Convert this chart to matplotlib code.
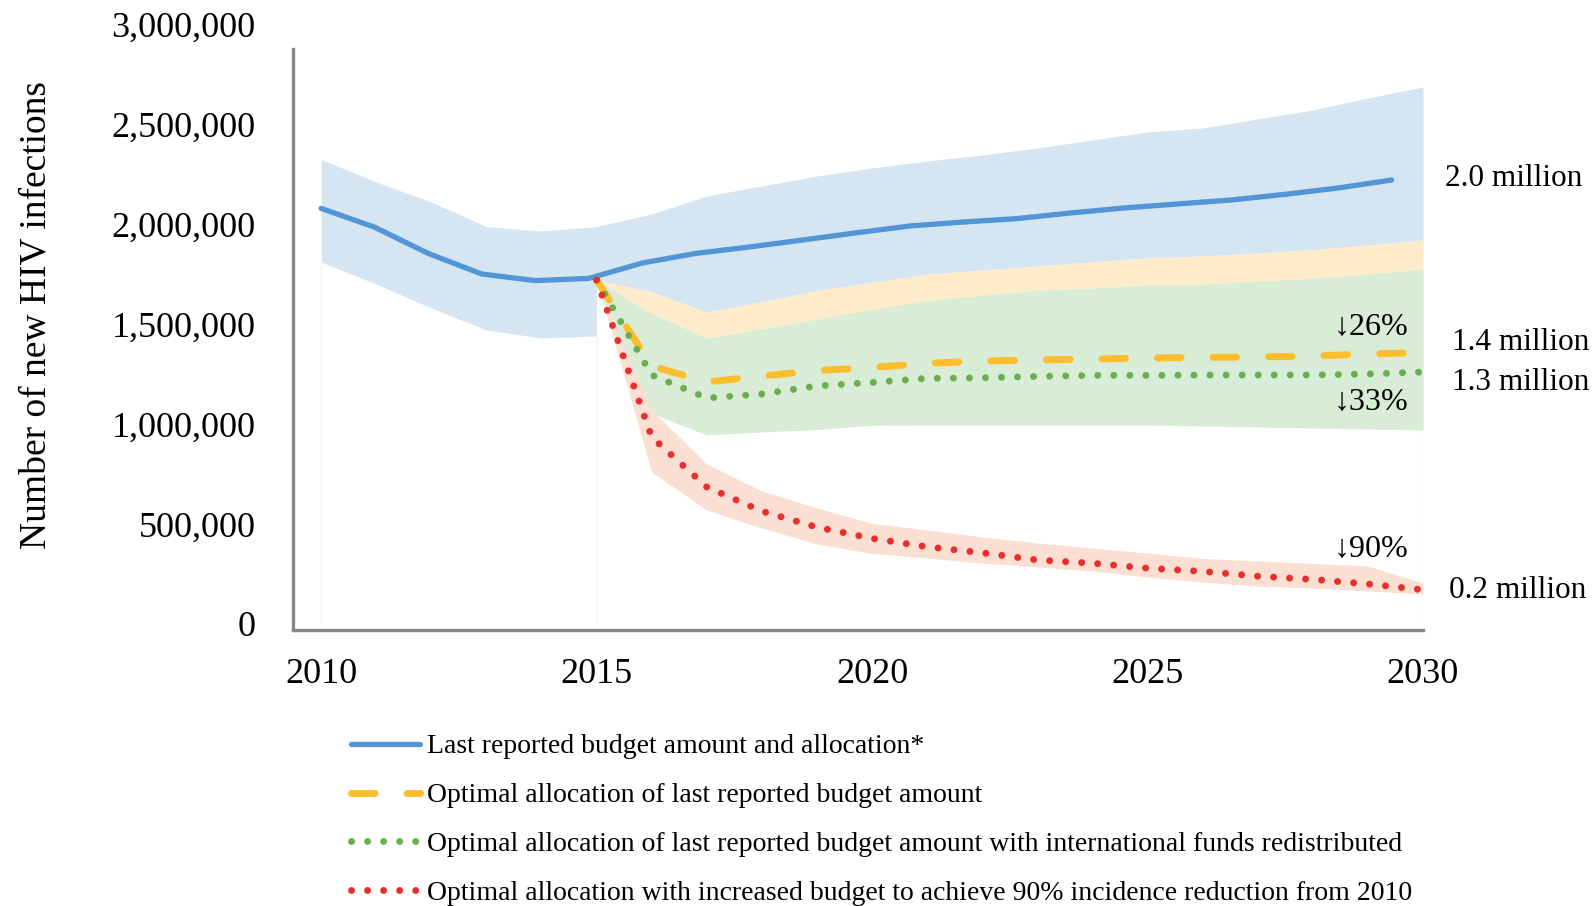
import numpy as np
import matplotlib
matplotlib.use("Agg")
import matplotlib.pyplot as plt
from matplotlib.lines import Line2D
from matplotlib.ticker import StrMethodFormatter

plt.rcParams["font.family"] = ["Liberation Serif", "DejaVu Serif"]

# Colors
C_BLUE = "#5296d5"
C_BLUE_BAND = "#d5e5f1"
C_ORANGE = "#fdbd2c"
C_ORANGE_BAND = "#feebc9"
C_GREEN = "#6aae4f"
C_GREEN_BAND = "#d9edd6"
C_RED = "#ec2d2d"
C_RED_BAND = "#fadfd2"
C_SPINE = "#85878a"
C_EDGE = "#f3f3ea"

# Data (millions of new HIV infections)
years = np.arange(2010, 2031)
proj_years = np.arange(2015, 2031)

blue_mid = [2.078, 1.984, 1.853, 1.750, 1.717, 1.728, 1.805, 1.853, 1.885, 1.920,
            1.956, 1.990, 2.010, 2.027, 2.055, 2.080, 2.100, 2.120, 2.148, 2.180, 2.220]
blue_hi = [2.323, 2.210, 2.110, 1.987, 1.965, 1.987, 2.050, 2.140, 2.190, 2.240,
           2.280, 2.315, 2.345, 2.380, 2.420, 2.460, 2.480, 2.525, 2.570, 2.630, 2.685]
blue_lo = [1.810, 1.700, 1.580, 1.470, 1.430, 1.440]  # 2010-2015

orange_mid = [1.720, 1.290, 1.210, 1.240, 1.267, 1.283, 1.303, 1.315, 1.320, 1.325,
              1.330, 1.333, 1.335, 1.340, 1.350, 1.357]
orange_hi = [1.720, 1.660, 1.560, 1.610, 1.667, 1.708, 1.748, 1.770, 1.790, 1.810,
             1.830, 1.840, 1.855, 1.872, 1.895, 1.920]

green_mid = [1.720, 1.245, 1.130, 1.150, 1.190, 1.208, 1.228, 1.231, 1.238, 1.243,
             1.243, 1.245, 1.245, 1.245, 1.250, 1.260]
green_hi = [1.720, 1.553, 1.430, 1.478, 1.525, 1.573, 1.617, 1.645, 1.668, 1.680,
            1.695, 1.700, 1.715, 1.730, 1.750, 1.775]
green_lo = [1.720, 1.053, 0.945, 0.960, 0.973, 0.993, 0.995, 0.995, 0.995, 0.995,
            0.995, 0.990, 0.985, 0.980, 0.975, 0.970]

red_mid = [1.720, 0.935, 0.685, 0.564, 0.484, 0.428, 0.386, 0.356, 0.320, 0.304,
           0.279, 0.263, 0.239, 0.223, 0.200, 0.171]
red_hi = [1.720, 1.070, 0.800, 0.665, 0.580, 0.503, 0.470, 0.435, 0.405, 0.380,
          0.355, 0.328, 0.315, 0.303, 0.290, 0.205]
red_lo = [1.720, 0.760, 0.570, 0.480, 0.400, 0.353, 0.330, 0.305, 0.285, 0.265,
          0.235, 0.210, 0.190, 0.180, 0.165, 0.150]

legend_labels = [
    "Last reported budget amount and allocation*",
    "Optimal allocation of last reported budget amount",
    "Optimal allocation of last reported budget amount with international funds redistributed",
    "Optimal allocation with increased budget to achieve 90% incidence reduction from 2010",
]
end_labels = ["2.0 million", "1.4 million", "1.3 million", "0.2 million"]
end_label_pos = [(2030.40, 2.225), (2030.53, 1.41), (2030.53, 1.21), (2030.47, 0.165)]
pct_labels = ["\u219326%", "\u219333%", "\u219390%"]
pct_label_y = [1.485, 1.11, 0.375]

M = 1e6
to_n = lambda a: np.asarray(a) * M

# the baseline line sits on a slightly narrower category axis in the source
BLUE_X_STRETCH = 0.9715
blue_x = 2010 + (years - 2010) * BLUE_X_STRETCH

DOT_LW = 5.0
DOTS = (0.01, 2.3)
DASHES = (3.4, 4.6)

fig = plt.figure(figsize=(15.95, 9.06), dpi=100, facecolor="white")
ax = fig.add_axes([293 / 1595, 1 - 630 / 906, (1423 - 293) / 1595, (630 - 24) / 906])
ax.set_xlim(2009.49, 2030.0)
ax.set_ylim(-30000, 3000000)

# Bands
ax.fill_between(years[:6], to_n(blue_lo), to_n(blue_hi[:6]), color=C_BLUE_BAND, lw=0)
ax.fill_between(proj_years, to_n(orange_hi), to_n(blue_hi[5:]), color=C_BLUE_BAND, lw=0)
ax.fill_between(proj_years, to_n(green_hi), to_n(orange_hi), color=C_ORANGE_BAND, lw=0)
ax.fill_between(proj_years, to_n(green_lo), to_n(green_hi), color=C_GREEN_BAND, lw=0)
ax.fill_between(proj_years, to_n(red_lo), to_n(red_hi), color=C_RED_BAND, lw=0)

# faint area edges left by the source
ax.vlines([2010, 2015, 2030], 0, [blue_lo[0] * M, blue_lo[-1] * M, green_lo[-1] * M],
          color=C_EDGE, lw=1, zorder=0.5)

# Lines
ax.plot(blue_x, to_n(blue_mid), color=C_BLUE, lw=3.8, solid_capstyle="round", zorder=3)
ax.plot(proj_years, to_n(orange_mid), color=C_ORANGE, lw=5, dashes=DASHES,
        dash_capstyle="round", zorder=4)
ax.plot(proj_years, to_n(green_mid), color=C_GREEN, lw=DOT_LW, dashes=DOTS,
        dash_capstyle="round", zorder=5)
ax.plot(proj_years, to_n(red_mid), color=C_RED, lw=DOT_LW, dashes=DOTS,
        dash_capstyle="round", zorder=6)

# Axes styling
for side in ("top", "right"):
    ax.spines[side].set_visible(False)
for side in ("left", "bottom"):
    ax.spines[side].set_color(C_SPINE)
    ax.spines[side].set_linewidth(2.4)
ax.spines["left"].set_bounds(-30000, 2875000)
ax.set_yticks(np.arange(0, 3000001, 500000))
ax.set_xticks([2010, 2015, 2020, 2025, 2030])
ax.yaxis.set_major_formatter(StrMethodFormatter("{x:,.0f}"))
ax.tick_params(axis="y", length=0, labelsize=26, pad=27)
ax.tick_params(axis="x", length=0, labelsize=26, pad=20)
ax.set_ylabel("Number of new HIV infections", fontsize=27, labelpad=42)
ax.yaxis.label.set_y(0.52)

# End-of-period labels
for lbl, (x, y) in zip(end_labels, end_label_pos):
    ax.text(x, y * M, lbl, fontsize=22.5, ha="left", va="center", clip_on=False)
for lbl, y in zip(pct_labels, pct_label_y):
    ax.text(2029.06, y * M, lbl, fontsize=23, ha="center", va="center")

# Legend
handles = [
    Line2D([], [], color=C_BLUE, lw=3.8, solid_capstyle="round"),
    Line2D([], [], color=C_ORANGE, lw=5, dashes=DASHES, dash_capstyle="round"),
    Line2D([], [], color=C_GREEN, lw=DOT_LW, dashes=DOTS, dash_capstyle="round"),
    Line2D([], [], color=C_RED, lw=DOT_LW, dashes=DOTS, dash_capstyle="round"),
]
fig.legend(handles, legend_labels, loc="upper left",
           bbox_to_anchor=(351 / 1595, 1 - 734 / 906), frameon=False,
           fontsize=20, handlelength=2.5, handletextpad=0.25,
           labelspacing=0.84, borderpad=0, borderaxespad=0)

fig.savefig("out.png", dpi=100, facecolor="white")
